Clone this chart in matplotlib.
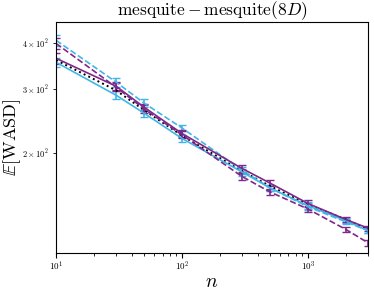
import matplotlib
matplotlib.use('Agg')
import matplotlib.pyplot as plt
import numpy as np

plt.rcParams['font.family'] = 'serif'
plt.rcParams['font.serif'] = ['cmr10', 'DejaVu Serif']
plt.rcParams['mathtext.fontset'] = 'cm'
plt.rcParams['axes.formatter.use_mathtext'] = True

n = [10, 30, 50, 100, 300, 500, 1000, 2000, 3000]

purple_solid = [364, 305, 267, 226, 181, 165, 145, 131, 124]
purple_solid_err = [12, 8, 6, 5, 4, 3, 3, 2, 2]
purple_dashed = [400, 303, 264, 224, 172, 156, 140, 123, 113]
purple_dashed_err = [14, 8, 6, 5, 4, 3, 3, 2, 2]
blue_solid = [355, 288, 257, 219, 177, 160, 143, 130, 122]
blue_solid_err = [10, 7, 6, 5, 4, 3, 3, 2, 2]
blue_dashed = [408, 313, 274, 234, 179, 160, 142, 129, 122]
blue_dashed_err = [15, 9, 7, 5, 4, 3, 3, 2, 2]
black_dotted = [360, 297, 262, 223, 178, 162, 144, 131, 123]

purple = '#80278a'
blue = '#41b6e6'

fig = plt.figure(figsize=(3.74, 2.91), dpi=100)
ax = fig.add_axes([0.150, 0.131, 0.834, 0.793])

ax.errorbar(n, blue_solid, yerr=blue_solid_err, color=blue, ls='-', lw=1.2, capsize=3)
ax.errorbar(n, blue_dashed, yerr=blue_dashed_err, color=blue, ls='--', lw=1.2, capsize=3)
ax.errorbar(n, purple_solid, yerr=purple_solid_err, color=purple, ls='-', lw=1.2, capsize=3)
ax.errorbar(n, purple_dashed, yerr=purple_dashed_err, color=purple, ls='--', lw=1.2, capsize=3)
ax.plot(n, black_dotted, color='black', ls=':', lw=1.4)

ax.set_xscale('log')
ax.set_yscale('log')
ax.set_xlim(10, 3000)
ax.set_ylim(106, 458)

ax.tick_params(axis='both', which='both', labelsize=6)
ax.tick_params(axis='x', which='both', pad=1.5, labelsize=6.5)
ax.set_title(r'$\mathrm{mesquite} - \mathrm{mesquite}(8D)$', fontsize=12.5, pad=4)
ax.set_xlabel(r'$n$', fontsize=14, labelpad=0)
ax.set_ylabel(r'$\mathbb{E}[\mathrm{WASD}]$', fontsize=13)
ax.yaxis.set_label_coords(-0.105, 0.5)

fig.savefig('out.png', dpi=100)
